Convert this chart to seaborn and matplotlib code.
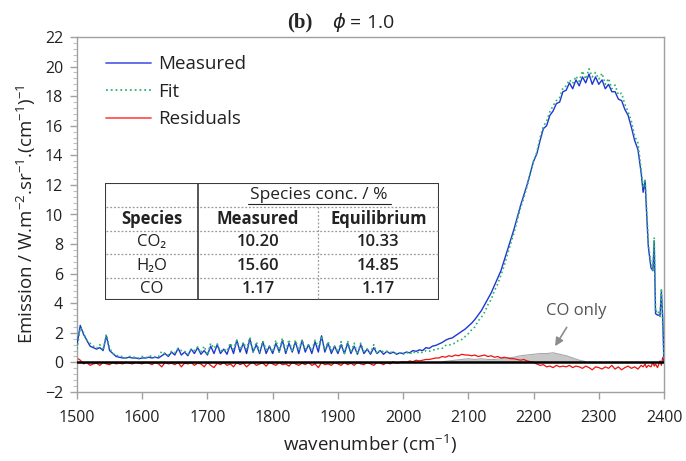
import matplotlib
matplotlib.use("Agg")
import matplotlib.pyplot as plt
from matplotlib.ticker import MultipleLocator
import seaborn as sns
import numpy as np
import pandas as pd

# ---------------- data ----------------
wavenumber = list(range(1500, 2356, 5)) + [2360, 2365, 2368, 2371, 2373, 2376, 2380,
                                            2383, 2385, 2387, 2390, 2394, 2396, 2398, 2400]

measured = [
    1.2, 2.5, 1.9, 1.5, 1.1, 1.0, 0.9, 1.0, 0.8, 1.8,
    0.8, 0.6, 0.4, 0.35, 0.3, 0.3, 0.35, 0.3, 0.3, 0.25,
    0.3, 0.3, 0.35, 0.3, 0.35, 0.3, 0.45, 0.6, 0.4, 0.7,
    0.5, 0.95, 0.5, 0.7, 0.45, 0.9, 0.6, 1.0, 0.55, 0.8,
    0.5, 1.1, 0.6, 1.2, 0.6, 0.9, 0.55, 1.2, 0.6, 1.5,
    0.7, 1.3, 0.6, 1.6, 0.7, 1.2, 0.6, 1.4, 0.6, 1.1,
    0.6, 1.3, 0.7, 1.5, 0.6, 1.3, 0.7, 1.4, 0.6, 1.5,
    0.7, 1.2, 0.6, 1.4, 0.7, 1.8, 0.7, 1.3, 0.6, 1.1,
    0.6, 1.2, 0.6, 1.3, 0.6, 1.1, 0.55, 1.2, 0.6, 0.9,
    0.55, 1.0, 0.6, 0.8, 0.55, 0.75, 0.6, 0.7, 0.55, 0.65,
    0.6, 0.7, 0.65, 0.8, 0.75, 0.85, 0.8, 1.0, 0.95, 1.1,
    1.15, 1.25, 1.35, 1.5, 1.6, 1.65, 1.8, 1.95, 2.1, 2.25,
    2.45, 2.65, 2.9, 3.2, 3.5, 3.9, 4.3, 4.7, 5.2, 5.7,
    6.2, 6.9, 7.6, 8.3, 9.0, 9.8, 10.6, 11.3, 12.0, 12.8,
    13.6, 14.1, 15.0, 15.8, 16.0, 16.7, 17.0, 17.5, 17.6, 18.3,
    18.4, 18.9, 18.5, 19.1, 18.7, 19.3, 18.9, 19.5, 18.8, 19.3,
    18.8, 19.1, 18.5, 18.8, 18.3, 18.3, 17.8, 17.7, 17.1, 16.7,
    15.9, 15.0,
    14.4, 12.8, 11.5, 12.3, 10.4, 7.8, 6.4, 6.2, 8.2, 3.3, 3.2, 3.2, 4.8, 3.0, 0.0,
]

residuals = [
    0.3, 0.15, -0.1, 0.0, -0.2, -0.1, -0.05, -0.2, 0.0, -0.1,
    -0.15, 0.0, -0.1, -0.05, -0.1, 0.0, -0.05, -0.1, 0.0, -0.05,
    -0.1, 0.0, -0.05, -0.15, 0.0, -0.1, -0.3, 0.0, -0.1, -0.05,
    -0.15, 0.0, -0.3, -0.05, -0.1, 0.0, -0.2, -0.05, -0.1, -0.3,
    0.0, -0.2, -0.35, -0.05, -0.15, 0.0, -0.2, -0.1, -0.3, 0.0,
    -0.15, -0.05, -0.3, -0.1, 0.0, -0.2, -0.1, -0.05, -0.25, 0.0,
    -0.1, -0.2, 0.0, -0.15, -0.1, -0.25, 0.0, -0.1, -0.2, -0.05,
    -0.15, 0.0, -0.2, -0.1, -0.35, 0.0, -0.15, -0.1, -0.2, 0.0,
    -0.1, -0.2, 0.0, -0.15, -0.05, -0.2, 0.0, -0.1, -0.15, 0.0,
    -0.1, -0.2, 0.0, -0.05, -0.15, 0.0, -0.1, 0.05, -0.05, 0.0,
    0.05, 0.0, 0.1, 0.05, 0.15, 0.1, 0.15, 0.2, 0.2, 0.25,
    0.3, 0.3, 0.4, 0.35, 0.45, 0.4, 0.5, 0.45, 0.55, 0.5,
    0.5, 0.45, 0.5, 0.4, 0.45, 0.5, 0.4, 0.45, 0.35, 0.4,
    0.3, 0.35, 0.3, 0.25, 0.25, 0.2, 0.15, 0.2, 0.1, 0.05,
    0.0, -0.1, -0.2, -0.15, -0.3, -0.25, -0.35, -0.2, -0.3, -0.25,
    -0.3, -0.2, -0.35, -0.25, -0.3, -0.4, -0.25, -0.35, -0.5, -0.3,
    -0.35, -0.45, -0.3, -0.4, -0.2, -0.45, -0.3, -0.5, -0.35, -0.25,
    -0.4, -0.3,
    -0.45, -0.2, -0.3, -0.1, -0.35, -0.2, -0.3, 0.0, -0.25, -0.1, -0.35, 0.1, -0.2, 0.35, 0.0,
]

co_wavenumber = list(range(2060, 2285, 10))
co_only = [0.05, 0.1, 0.15, 0.2, 0.25, 0.2, 0.25, 0.2, 0.2, 0.25, 0.3, 0.35,
           0.45, 0.5, 0.55, 0.6, 0.6, 0.65, 0.55, 0.45, 0.3, 0.15, 0.05]

table_species = ["CO\u2082", "H\u2082O", "CO"]
table_measured = ["10.20", "15.60", "1.17"]
table_equilibrium = ["10.33", "14.85", "1.17"]

x_ticks = list(range(1500, 2401, 100))
y_ticks = list(range(-2, 23, 2))

# ---------------- style ----------------
sns.set_style("white")
plt.rcParams["font.family"] = ["Open Sans", "DejaVu Sans"]
plt.rcParams["mathtext.fontset"] = "custom"
plt.rcParams["mathtext.rm"] = "Open Sans"
plt.rcParams["mathtext.it"] = "Open Sans:italic"
plt.rcParams["mathtext.bf"] = "Open Sans:bold"

df = pd.DataFrame({"wn": wavenumber, "measured": measured, "residuals": residuals})
df["fit"] = df["measured"] - df["residuals"]

W, H = 686, 461
fig = plt.figure(figsize=(W / 100, H / 100), dpi=100)
ax = fig.add_axes([77 / W, 1 - 392 / H, (664 - 77) / W, (392 - 37) / H])

# CO only (grey)
ax.fill_between(co_wavenumber, 0, co_only, color="#C8C8C8", lw=0, zorder=1)
sns.lineplot(x=co_wavenumber, y=co_only, ax=ax, color="#A8A8A8", lw=0.8,
             estimator=None, sort=False, zorder=1)

sns.lineplot(data=df, x="wn", y="measured", ax=ax, color="#1F35D6", lw=1.0,
             estimator=None, sort=False, zorder=3, label="Measured")
sns.lineplot(data=df, x="wn", y="fit", ax=ax, color="#2DB36B", lw=1.2, ls=":",
             estimator=None, sort=False, zorder=4, label="Fit")
sns.lineplot(data=df, x="wn", y="residuals", ax=ax, color="#EE1111", lw=0.9,
             estimator=None, sort=False, zorder=2, label="Residuals")
ax.axhline(0, color="black", lw=1.8, zorder=5)

ax.set_xlim(1500, 2400)
ax.set_ylim(-2, 22)
ax.set_xticks(x_ticks)
ax.set_yticks(y_ticks)
ax.yaxis.set_minor_locator(MultipleLocator(0.4))
for s in ax.spines.values():
    s.set_color("#A0A0A0")
    s.set_linewidth(1.0)
ax.tick_params(axis="x", which="major", direction="out", length=5, width=1,
               color="#A0A0A0", labelsize=11.5, pad=8, labelcolor="#222222", bottom=True)
ax.tick_params(axis="y", which="major", direction="out", length=5, width=1,
               color="#A0A0A0", labelsize=11.5, pad=5, labelcolor="#222222", left=True)
ax.tick_params(axis="y", which="minor", direction="out", length=3, width=0.8,
               color="#C0C0C0", left=True)

ax.set_xlabel("wavenumber (cm$^{-1}$)", fontsize=13.5, color="#222222", labelpad=5)
ax.set_ylabel("Emission / W.m$^{-2}$.sr$^{-1}$.(cm$^{-1}$)$^{-1}$", fontsize=13.5,
              color="#222222", labelpad=5)

leg = ax.legend(loc="upper left", bbox_to_anchor=(0.05, 0.948), frameon=False,
                fontsize=13.5, handlelength=2.4, handletextpad=0.35, labelspacing=0.5,
                borderpad=0, borderaxespad=0)
for t in leg.get_texts():
    t.set_color("#222222")
leg_colors = ["#5566E6", "#2DB36B", "#FF5555"]
for h, c in zip(leg.get_lines(), leg_colors):
    h.set_color(c)
    h.set_linewidth(1.3)

ax.annotate("CO only", xy=(2233, 1.1), xytext=(2266, 3.45), ha="center", va="center",
            fontsize=12, color="#555555",
            arrowprops=dict(arrowstyle="-|>", color="#8C8C8C", lw=1.2,
                            mutation_scale=12, shrinkA=4, shrinkB=0))

# title
fig.text(300 / W, 1 - 22 / H, "(b)", ha="center", va="center", fontsize=15,
         fontweight="bold", family="Liberation Serif")
fig.text(332 / W, 1 - 23 / H, r"$\phi$ = 1.0", ha="left", va="center", fontsize=14,
         math_fontfamily="dejavusans", color="#222222")

# ---------------- table ----------------
tx0, ty0, tw, th = 105, 183, 334, 117
tax = fig.add_axes([tx0 / W, 1 - (ty0 + th) / H, tw / W, th / H], zorder=10)
tax.set_xlim(0, tw)
tax.set_ylim(th, 0)
tax.axis("off")
tax.add_patch(plt.Rectangle((0, 0), tw, th, facecolor="white", edgecolor="#3A3A3A",
                            lw=1.5, zorder=1))
for yy in [24, 47.5, 71, 94.5]:
    tax.plot([1, tw - 1], [yy, yy], color="#9A9A9A", lw=0.9, ls=(0, (1.5, 1.5)), zorder=2)
tax.plot([93, 93], [0, th], color="#3A3A3A", lw=1.2, zorder=3)
tax.plot([213, 213], [24, th], color="#9A9A9A", lw=0.9, ls=(0, (1.5, 1.5)), zorder=3)

tc = "#222222"
fs = 12
tax.text(214, 12, "Species conc. / %", ha="center", va="center", fontsize=fs + 0.5, color=tc)
tax.plot([143, 286], [21, 21], color=tc, lw=0.8)
tax.text(46.5, 35.5, "Species", ha="center", va="center", fontsize=fs,
         fontweight="bold", color=tc)
tax.text(153, 35.5, "Measured", ha="center", va="center", fontsize=fs,
         fontweight="bold", color=tc)
tax.text(273.5, 35.5, "Equilibrium", ha="center", va="center", fontsize=fs,
         fontweight="bold", color=tc)
rows_y = [59, 82.5, 106]
for yy, sp, m, e in zip(rows_y, table_species, table_measured, table_equilibrium):
    tax.text(46.5, yy, sp, ha="center", va="center", fontsize=fs, color=tc)
    tax.text(153, yy, m, ha="center", va="center", fontsize=fs, fontweight="semibold", color=tc)
    tax.text(273.5, yy, e, ha="center", va="center", fontsize=fs, fontweight="semibold", color=tc)

fig.savefig("out.png", dpi=100)
